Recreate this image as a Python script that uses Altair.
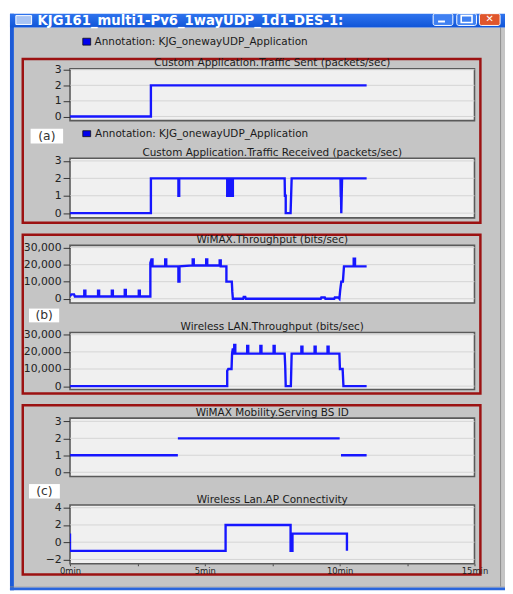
import altair as alt
import pandas as pd

# ---------------- data (time in minutes) ----------------
sent_t = [0.0, 3.0, 3.0, 11.0]
sent_v = [0, 0, 2, 2]

recv_t = [0.0, 3.0, 3.0,
          4.02, 4.02, 4.05, 4.05,
          5.83, 5.83, 5.86, 5.86,
          5.89, 5.89, 5.92, 5.92,
          5.95, 5.95, 5.98, 5.98,
          6.01, 6.01, 6.04, 6.04,
          7.96, 7.97, 8.00, 8.00, 8.18, 8.22,
          10.03, 10.04, 10.05, 10.06, 10.09, 11.0]
recv_v = [0, 0, 2,
          2, 1, 1, 2,
          2, 1, 1, 2,
          2, 1, 1, 2,
          2, 1, 1, 2,
          2, 1, 1, 2,
          2, 1, 1, 0, 0, 2,
          2, 1, 1, 0, 2, 2]

wimax_t = [0.00, 0.05, 0.15, 0.18,
           0.53, 0.53, 0.57, 0.57,
           1.04, 1.04, 1.08, 1.08,
           1.55, 1.55, 1.59, 1.59,
           2.03, 2.03, 2.07, 2.07,
           2.55, 2.55, 2.59, 2.59,
           2.98, 2.98, 3.02, 3.06, 3.06,
           3.53, 3.53, 3.57, 3.57,
           4.02, 4.02, 4.06, 4.06,
           4.55, 4.55, 4.59, 4.59,
           5.05, 5.05, 5.09, 5.09,
           5.55, 5.55, 5.59, 5.59,
           5.80, 5.80, 6.00, 6.02, 6.04,
           6.42, 6.44, 6.50, 6.52,
           9.30, 9.32, 9.45, 9.47,
           9.80, 9.82, 9.95, 9.99,
           10.02, 10.06, 10.12, 10.16,
           10.52, 10.52, 10.57, 10.57,
           11.00]
wimax_v = [1500, 2600, 2600, 1300,
           1300, 4800, 4800, 1300,
           1300, 4800, 4800, 1300,
           1300, 4800, 4800, 1300,
           1300, 5200, 5200, 1300,
           1300, 4800, 4800, 1300,
           1300, 21000, 23000, 23000, 19000,
           19000, 23000, 23000, 19000,
           19000, 10000, 10000, 19000,
           19500, 23000, 23000, 19500,
           19500, 23000, 23000, 19500,
           19500, 22500, 22500, 19000,
           19000, 10000, 10000, 4000, 0,
           0, 1000, 1000, 0,
           0, 700, 700, 0,
           0, 700, 700, 0,
           5000, 10000, 10000, 19000,
           19000, 23500, 23500, 19000,
           19000]

wlan_t = [0.00, 5.83, 5.83, 5.87, 5.99,
          6.01, 6.04, 6.06,
          6.09, 6.09, 6.13, 6.13,
          6.57, 6.57, 6.61, 6.61,
          7.06, 7.06, 7.10, 7.10,
          7.55, 7.55, 7.59, 7.59,
          7.96, 7.98, 8.00, 8.19, 8.22,
          8.58, 8.58, 8.62, 8.62,
          9.07, 9.07, 9.11, 9.11,
          9.55, 9.55, 9.59, 9.59,
          9.99, 10.01, 10.11, 10.14, 11.00]
wlan_v = [0, 0, 9000, 10000, 10000,
          19000, 22000, 19000,
          19000, 24000, 24000, 19000,
          19000, 23500, 23500, 19000,
          19000, 23500, 23500, 19000,
          19000, 23500, 23500, 19000,
          19000, 12000, 0, 0, 19000,
          19000, 23000, 23000, 19000,
          19000, 23000, 23000, 19000,
          19000, 23000, 23000, 19000,
          19000, 10000, 10000, 0, 0]

bs_t = [0.0, 4.0, 4.0, 10.0, 10.05, 11.0]
bs_v = [1, 1, 2, 2, 1, 1]
bs_seg = [0, 0, 1, 1, 2, 2]

ap_t = [0.0, 0.0, 5.77, 5.77, 8.18, 8.18, 8.25, 8.25, 10.27, 10.27]
ap_v = [1, -1, -1, 2, 2, -1, -1, 1, 1, -1]

titles = ["Custom Application.Traffic Sent (packets/sec)",
          "Custom Application.Traffic Received (packets/sec)",
          "WiMAX.Throughput (bits/sec)",
          "Wireless LAN.Throughput (bits/sec)",
          "WiMAX Mobility.Serving BS ID",
          "Wireless Lan.AP Connectivity"]
y_ticks = [[0, 1, 2, 3], [0, 1, 2, 3],
           [0, 10000, 20000, 30000], [0, 10000, 20000, 30000],
           [0, 1, 2, 3], [-2, 0, 2, 4]]
y_domains = [[-0.265, 3.063], [-0.27, 3.15],
             [-2480, 31270], [-2000, 31300],
             [-0.25, 3.19], [-2.5, 4.31]]
x_ticks = [0, 2.5, 5, 7.5, 10, 12.5, 15]
annotation = "Annotation: KJG_onewayUDP_Application"
window_title = "KJG161_multi1-Pv6_1wayUDP_1d1-DES-1:"

# ---------------- layout / style ----------------
W, H = 411, 503
panel_px = [(0, 52.7), (91, 151.5), (179.5, 238), (268, 326), (355, 414.3), (443.3, 503)]
BLUE = "#1616ff"
FONT = "DejaVu Sans"
GRAY = "#c5c5c5"
RED = "#9c1212"

ONE = alt.Data(values=[{}])


def box(x, x2, y, y2, **mk):
    return alt.Chart(ONE).mark_rect(**mk).encode(
        x=alt.value(x), x2=alt.value(x2), y=alt.value(y), y2=alt.value(y2))


def txt(x, y, s, **mk):
    return alt.Chart(ONE).mark_text(baseline="middle", font=FONT, **mk).encode(
        x=alt.value(x), y=alt.value(y), text=alt.value(s))


xaxis = alt.Axis(values=x_ticks, orient="bottom",
                 labelExpr="datum.value % 5 == 0 ? datum.value + 'min' : ''",
                 grid=False, domain=False, tickSize=2, tickColor="#444",
                 labelFont=FONT, labelFontSize=8.5, labelColor="#222",
                 labelPadding=1, labelFlush=False, labelOverlap=False,
                 title=None, zindex=2)
X = alt.X("t:Q", scale=alt.Scale(domain=[0, 15], nice=False, zero=False), axis=xaxis)


def panel(df, i, detail=False):
    top, bot = panel_px[i]
    lo, hi = y_domains[i]
    sc = alt.Scale(domain=[lo, hi], range=[bot, top], nice=False, zero=False)
    ax = alt.Axis(values=y_ticks[i], orient="left", format=",d", grid=False,
                  domain=False, tickSize=7, tickColor="#333", labelFont=FONT,
                  labelFontSize=11, labelColor="#222", labelPadding=2,
                  labelOverlap=False, title=None, zindex=2)
    bg = alt.Chart(alt.Data(values=[{"lo": lo, "hi": hi}])).mark_rect(
        fill="#f0f0f0", stroke="#5a5a5a", strokeWidth=1.6).encode(
        x=alt.value(0), x2=alt.value(W),
        y=alt.Y("lo:Q", scale=sc, axis=ax), y2="hi:Q")
    grid = alt.Chart(pd.DataFrame({"g": y_ticks[i]})).mark_rule(
        color="#d4d4d4", strokeWidth=1).encode(
        x=alt.value(0), x2=alt.value(W), y=alt.Y("g:Q", scale=sc, axis=ax))
    enc = dict(x=X, y=alt.Y("v:Q", scale=sc, axis=ax), order="i:Q")
    if detail:
        enc["detail"] = "s:N"
    line = alt.Chart(df).mark_line(color=BLUE, strokeWidth=2.4, clip=True).encode(**enc)
    ttl = txt(W / 2, top - 5.5, titles[i], fontSize=10.6, color="#1a1a1a", align="center")
    return alt.layer(bg, grid, line, ttl)


def frame(t, v):
    return pd.DataFrame({"t": t, "v": v, "i": list(range(len(t)))})


bs_df = frame(bs_t, bs_v)
bs_df["s"] = bs_seg

grad = alt.LinearGradient(gradient="linear", x1=0, x2=0, y1=0, y2=1,
                          stops=[alt.GradientStop(color="#2f74ee", offset=0),
                                 alt.GradientStop(color="#1055d8", offset=1)])

decor = [
    box(-63, 442, -56, 530, fill="#ffffff"),
    box(-57, 442, -42, 526, fill=GRAY),
    box(-61, -57, -56, 530, fill="#1d5bd6"),
    box(-61, 442, 526, 527, fill="#8a8a8a"),
    box(-61, 442, 527, 530, fill="#2a66dc"),
    box(437, 438, -42, 526, fill="#8e8e8e"),
    box(-61, 442, -56, -42, fill=grad),
    box(-55, -39, -54, -45, fill="#a8c4f4", stroke="#ffffff", strokeWidth=1),
    txt(-33, -48.5, window_title, fontSize=13.4, fontWeight="bold", color="#ffffff", align="left"),
    box(369, 389, -56, -44, fill="#3f80f2", stroke="#ffffff", strokeWidth=1, cornerRadius=2),
    box(374, 381, -49, -47, fill="#ffffff"),
    box(393, 413, -56, -44, fill="#3f80f2", stroke="#ffffff", strokeWidth=1, cornerRadius=2),
    box(397.5, 408.5, -54, -47, fill="#3f80f2", stroke="#ffffff", strokeWidth=1.6),
    box(416, 437, -56, -44, fill="#e0562c", stroke="#ffffff", strokeWidth=1, cornerRadius=2),
    txt(426.5, -50, "\u2715", fontSize=10, fontWeight="bold", color="#ffffff", align="center"),
    box(13, 21, -31, -24, fill="#0000ee", stroke="#111111", strokeWidth=0.8),
    txt(25, -27.5, annotation, fontSize=10.6, color="#1a1a1a", align="left"),
    box(-48, 417, -10, 156.5, fill=GRAY, stroke=RED, strokeWidth=2.5),
    box(-48, 417, 168.7, 330, fill=GRAY, stroke=RED, strokeWidth=2.5),
    box(-48, 417, 342, 514, fill=GRAY, stroke=RED, strokeWidth=2.5),
    box(13, 21, 63, 69, fill="#0000ee", stroke="#111111", strokeWidth=0.8),
    txt(25.5, 66, annotation, fontSize=10.6, color="#1a1a1a", align="left"),
    box(-40, -7, 61, 76, fill="#ffffff"),
    txt(-23.5, 68.5, "(a)", fontSize=12.5, color="#333333", align="center"),
    box(-41.7, -11, 243.7, 257.7, fill="#ffffff"),
    txt(-26.3, 250.7, "(b)", fontSize=12.5, color="#333333", align="center"),
    box(-41.7, -10.3, 422, 436.7, fill="#ffffff"),
    txt(-26, 429.3, "(c)", fontSize=12.5, color="#333333", align="center"),
]

panels = [
    panel(frame(sent_t, sent_v), 0),
    panel(frame(recv_t, recv_v), 1),
    panel(frame(wimax_t, wimax_v), 2),
    panel(frame(wlan_t, wlan_v), 3),
    panel(bs_df, 4, detail=True),
    panel(frame(ap_t, ap_v), 5),
]

chart = alt.layer(*decor, *panels).resolve_scale(y="independent").resolve_axis(
    y="independent").properties(width=W, height=H, padding=0).configure_view(
    strokeWidth=0).configure(background="#ffffff")

chart.save("out.html", embed_options={"renderer": "svg", "actions": False})
